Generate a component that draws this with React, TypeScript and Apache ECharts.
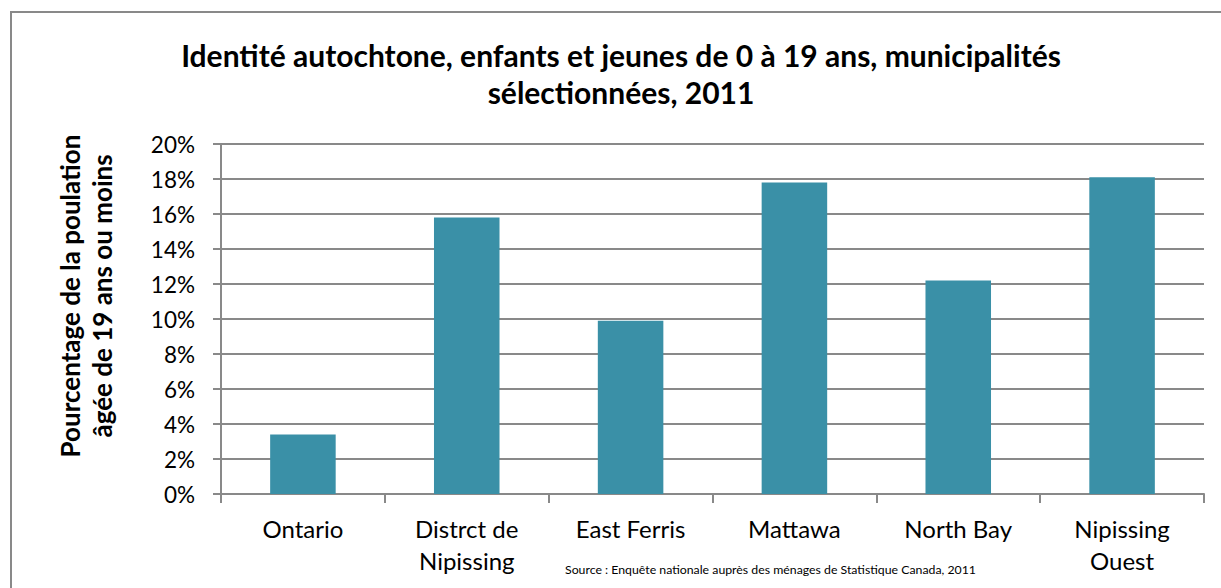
import React, { useEffect, useRef } from "react";
import * as echarts from "echarts";

const categories = ["Ontario", "Distrct de\nNipissing", "East Ferris", "Mattawa", "North Bay", "Nipissing\nOuest"];
const values = [3.4, 15.8, 9.9, 17.8, 12.2, 18.1];
const yTicks = [0, 20, 2];
const titleText = "Identité autochtone, enfants et jeunes de 0 à 19 ans, municipalités\nsélectionnées, 2011";
const yAxisTitle = "Pourcentage de la poulation\nâgée de 19 ans ou moins";
const sourceText = "Source : Enquête nationale auprès des ménages de Statistique Canada, 2011";

const FONT = "Lato, 'Open Sans', sans-serif";
const GREY = "#898989";

export default function App() {
  const ref = useRef<HTMLDivElement>(null);
  useEffect(() => {
    if (!ref.current) return;
    const chart = echarts.init(ref.current, undefined, { renderer: "svg" });
    chart.setOption({
      animation: false,
      backgroundColor: "#ffffff",
      textStyle: { fontFamily: FONT },
      grid: { left: 221, right: 17, top: 144, bottom: 94 },
      xAxis: {
        type: "category",
        data: categories,
        axisLine: { show: true, lineStyle: { color: GREY, width: 2 } },
        axisTick: { show: true, length: 9, lineStyle: { color: GREY, width: 2 } },
        axisLabel: { color: "#000", fontSize: 24, fontFamily: FONT, lineHeight: 32, margin: 18, interval: 0 },
      },
      yAxis: {
        type: "value",
        min: yTicks[0],
        max: yTicks[1],
        interval: yTicks[2],
        axisLine: { show: true, lineStyle: { color: GREY, width: 2 } },
        axisTick: { show: true, length: 8, lineStyle: { color: GREY, width: 2 } },
        splitLine: { show: true, lineStyle: { color: GREY, width: 2 } },
        axisLabel: { color: "#000", fontSize: 22.5, fontFamily: FONT, margin: 26, formatter: (v: number) => v + "%" },
      },
      series: [
        {
          type: "bar",
          data: values,
          barWidth: "40%",
          itemStyle: { color: "#3a90a7" },
        },
      ],
      graphic: [
        {
          type: "rect",
          shape: { x: 11, y: 12, width: 1240, height: 620 },
          style: { fill: "none", stroke: GREY, lineWidth: 2 },
          silent: true,
        },
        {
          type: "text",
          x: 621,
          y: 73,
          style: {
            text: titleText,
            fontFamily: FONT,
            fontWeight: "bold",
            fontSize: 30,
            lineHeight: 37,
            fill: "#000",
            align: "center",
            verticalAlign: "middle",
          },
        },
        {
          type: "text",
          x: 86,
          y: 296,
          rotation: Math.PI / 2,
          style: {
            text: yAxisTitle,
            fontFamily: FONT,
            fontWeight: "bold",
            fontSize: 26,
            lineHeight: 32,
            fill: "#000",
            align: "center",
            verticalAlign: "middle",
          },
        },
        {
          type: "text",
          x: 565,
          y: 569,
          style: {
            text: sourceText,
            fontFamily: FONT,
            fontSize: 12.3,
            fill: "#000",
            align: "left",
            verticalAlign: "middle",
          },
        },
      ],
    });
    return () => chart.dispose();
  }, []);
  return <div ref={ref} style={{ position: "absolute", left: 0, top: 0, width: 1221, height: 588 }} />;
}
